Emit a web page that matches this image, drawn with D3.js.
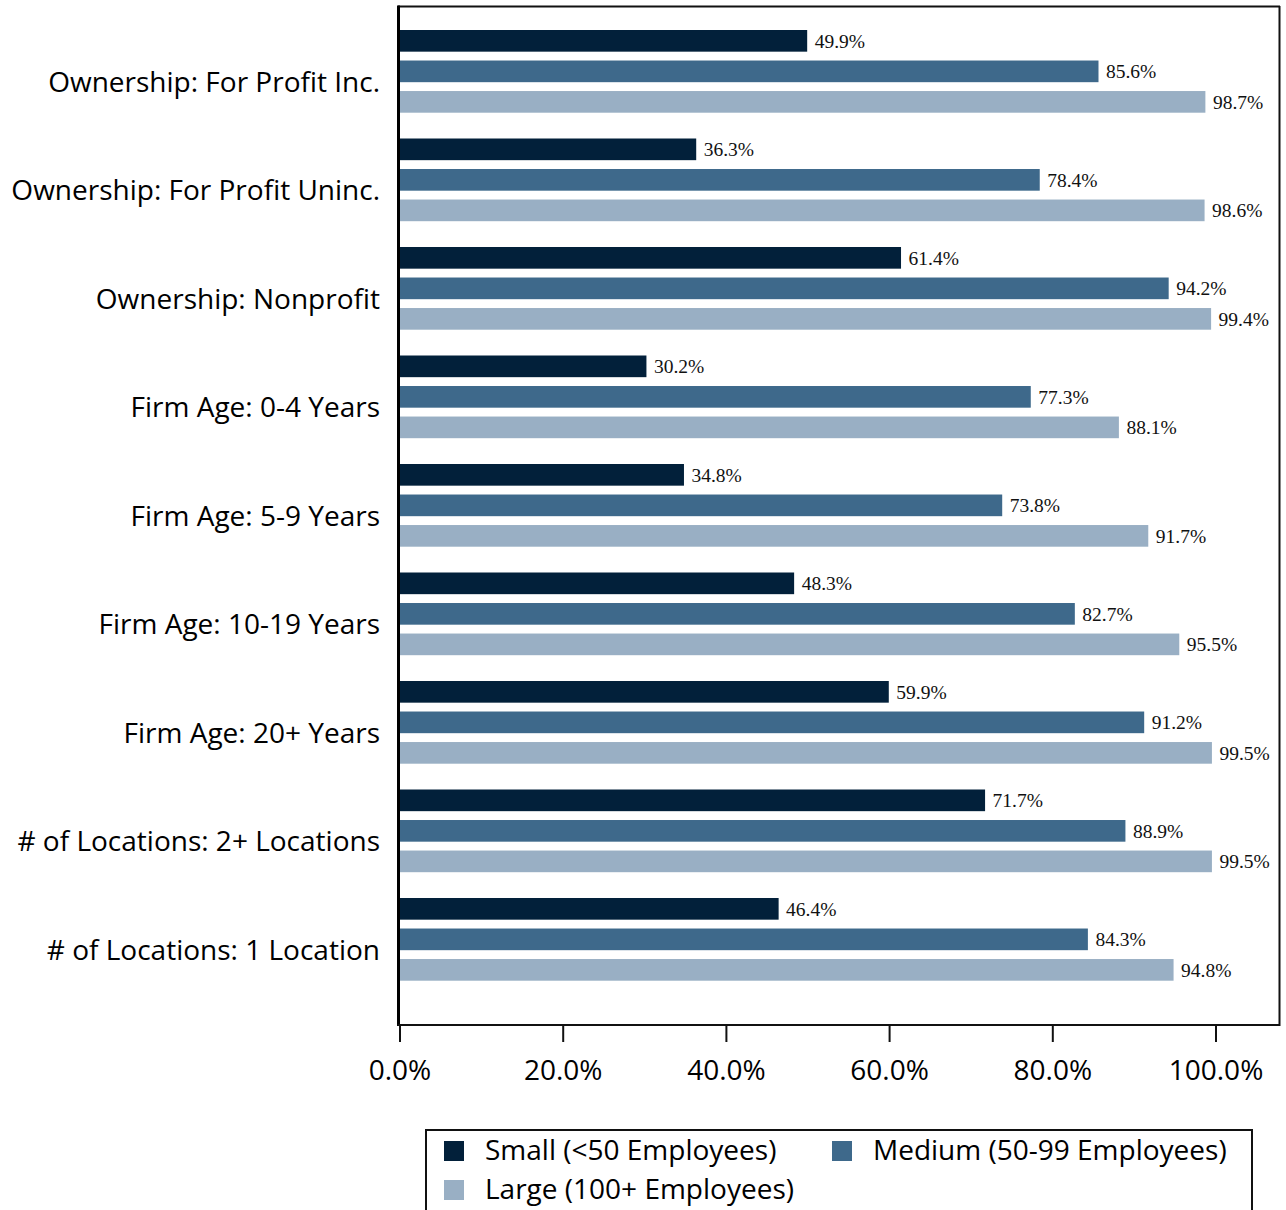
<!DOCTYPE html>
<html><head><meta charset="utf-8">
<script src="https://cdn.jsdelivr.net/npm/d3@7"></script>
<style>html,body{margin:0;padding:0;background:#fff;} svg{display:block;}</style>
</head><body>
<svg id="chart" width="1286" height="1210"></svg>
<script>
const categories = [
  "Ownership: For Profit Inc.",
  "Ownership: For Profit Uninc.",
  "Ownership: Nonprofit",
  "Firm Age: 0-4 Years",
  "Firm Age: 5-9 Years",
  "Firm Age: 10-19 Years",
  "Firm Age: 20+ Years",
  "# of Locations: 2+ Locations",
  "# of Locations: 1 Location"
];
const seriesNames = ["Small (<50 Employees)", "Medium (50-99 Employees)", "Large (100+ Employees)"];
const small  = [49.9, 36.3, 61.4, 30.2, 34.8, 48.3, 59.9, 71.7, 46.4];
const medium = [85.6, 78.4, 94.2, 77.3, 73.8, 82.7, 91.2, 88.9, 84.3];
const large  = [98.7, 98.6, 99.4, 88.1, 91.7, 95.5, 99.5, 99.5, 94.8];
const xTicks = [0, 20, 40, 60, 80, 100];
const colors = ["#02203A", "#3E698B", "#99AFC4"];

const seriesValues = [small, medium, large];
const svg = d3.select("#chart");
const sansFont = "'Open Sans', sans-serif";
const serifFont = "'Liberation Serif', 'DejaVu Serif', serif";
const sansSize = 28;

const x = d3.scaleLinear().domain([0, 100]).range([400, 1216]);
const y = d3.scaleBand().domain(categories).range([16.75, 993.25]).padding(0);
const ys = d3.scaleBand().domain(seriesNames).range([-41, 41.7]).paddingInner(0.29).paddingOuter(0);

// frame
svg.append("line").attr("x1", 398).attr("x2", 1280).attr("y1", 6.5).attr("y2", 6.5).attr("stroke", "#111").attr("stroke-width", 2);
svg.append("line").attr("x1", 1279.5).attr("x2", 1279.5).attr("y1", 6).attr("y2", 1026).attr("stroke", "#111").attr("stroke-width", 2);

// bars
const rows = [];
categories.forEach((c, i) => seriesNames.forEach((s, j) => rows.push({c, s, j, v: seriesValues[j][i]})));

const cy = c => y(c) + y.bandwidth() / 2;
svg.append("g").selectAll("rect").data(rows).join("rect")
  .attr("x", x(0))
  .attr("y", d => cy(d.c) + ys(d.s))
  .attr("width", d => x(d.v) - x(0))
  .attr("height", ys.bandwidth())
  .attr("fill", d => colors[d.j]);

svg.append("g").selectAll("text").data(rows).join("text")
  .attr("x", d => x(d.v) + 7.5)
  .attr("y", d => cy(d.c) + ys(d.s) + ys.bandwidth() / 2)
  .attr("dy", "0.35em")
  .attr("font-family", serifFont)
  .attr("font-size", 19.5)
  .attr("fill", "#111")
  .text(d => d.v.toFixed(1) + "%");

// category labels
svg.append("g").selectAll("text").data(categories).join("text")
  .attr("x", 380)
  .attr("y", c => cy(c) + 20.5)
  .attr("text-anchor", "end")
  .attr("font-family", sansFont)
  .attr("font-size", sansSize)
  .attr("fill", "#000")
  .text(c => c);

// left axis
svg.append("line").attr("x1", 398.5).attr("x2", 398.5).attr("y1", 5.5).attr("y2", 1026).attr("stroke", "#000").attr("stroke-width", 3);

// x axis
const xAxis = d3.axisBottom(x).tickValues(xTicks).tickSize(17).tickPadding(18)
  .tickFormat(d => d.toFixed(1) + "%");
const gx = svg.append("g").attr("transform", "translate(-0.5,1025)").call(xAxis);
gx.select(".domain").attr("d", "M398,0H1280").attr("stroke", "#111").attr("stroke-width", 2);
gx.selectAll(".tick line").attr("stroke", "#111").attr("stroke-width", 2);
gx.selectAll(".tick text").attr("font-family", sansFont).attr("font-size", sansSize).attr("fill", "#000");

// legend
const lg = svg.append("g");
lg.append("rect").attr("x", 426).attr("y", 1130).attr("width", 826).attr("height", 100)
  .attr("fill", "none").attr("stroke", "#111").attr("stroke-width", 2);
const legendPos = [{x: 444, y: 1141}, {x: 832, y: 1141}, {x: 444, y: 1180}];
const li = lg.selectAll("g.item").data(seriesNames).join("g").attr("class", "item")
  .attr("transform", (d, i) => `translate(${legendPos[i].x},${legendPos[i].y})`);
li.append("rect").attr("width", 20).attr("height", 20).attr("fill", (d, i) => colors[i]);
li.append("text").attr("x", 41).attr("y", 18.5).attr("font-family", sansFont).attr("font-size", sansSize)
  .attr("fill", "#000").text(d => d);
</script>
</body></html>
